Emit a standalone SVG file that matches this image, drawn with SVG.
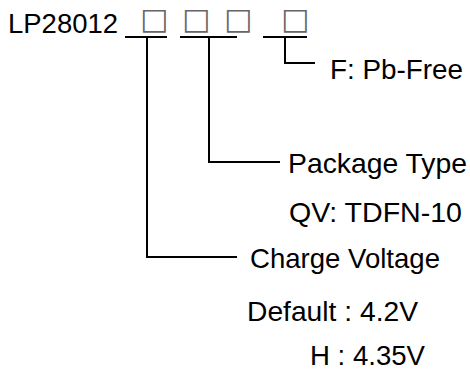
<svg xmlns="http://www.w3.org/2000/svg" width="470" height="371" viewBox="0 0 470 371">
<style>
.t{font-family:"Liberation Sans",Arial,"Noto Sans CJK SC",sans-serif;font-size:27.5px;fill:#000}
.sq{font-family:"DejaVu Sans","Noto Sans CJK SC",sans-serif;font-size:30px;fill:#666}
.ln{stroke:#000;stroke-width:2;fill:none}
</style>
<rect width="470" height="371" fill="#fff"/>
<g id="part-number">
<text class="t" x="8" y="33" textLength="110" lengthAdjust="spacingAndGlyphs">LP28012</text>
<text class="sq" x="140" y="29">□</text>
<text class="sq" x="182" y="29">□</text>
<text class="sq" x="224" y="29">□</text>
<text class="sq" x="281" y="29">□</text>
</g>
<g id="connectors">
<path class="ln" d="M125 37H167M180 37H237M263 37H307"/>
<path class="ln" d="M147 37V257H237"/>
<path class="ln" d="M209 37V162H280"/>
<path class="ln" d="M285 37V63H315"/>
</g>
<g id="pb-free"><text class="t" x="330" y="79" textLength="133" lengthAdjust="spacingAndGlyphs">F: Pb-Free</text></g>
<g id="package-type">
<text class="t" x="288" y="173" textLength="179" lengthAdjust="spacingAndGlyphs">Package Type</text>
<text class="t" x="289" y="222" textLength="173" lengthAdjust="spacingAndGlyphs">QV: TDFN-10</text>
</g>
<g id="charge-voltage">
<text class="t" x="250" y="268" textLength="190" lengthAdjust="spacingAndGlyphs">Charge Voltage</text>
<text class="t" x="247" y="321" textLength="171" lengthAdjust="spacingAndGlyphs">Default : 4.2V</text>
<text class="t" x="310" y="365" textLength="115" lengthAdjust="spacingAndGlyphs">H : 4.35V</text>
</g>
</svg>
